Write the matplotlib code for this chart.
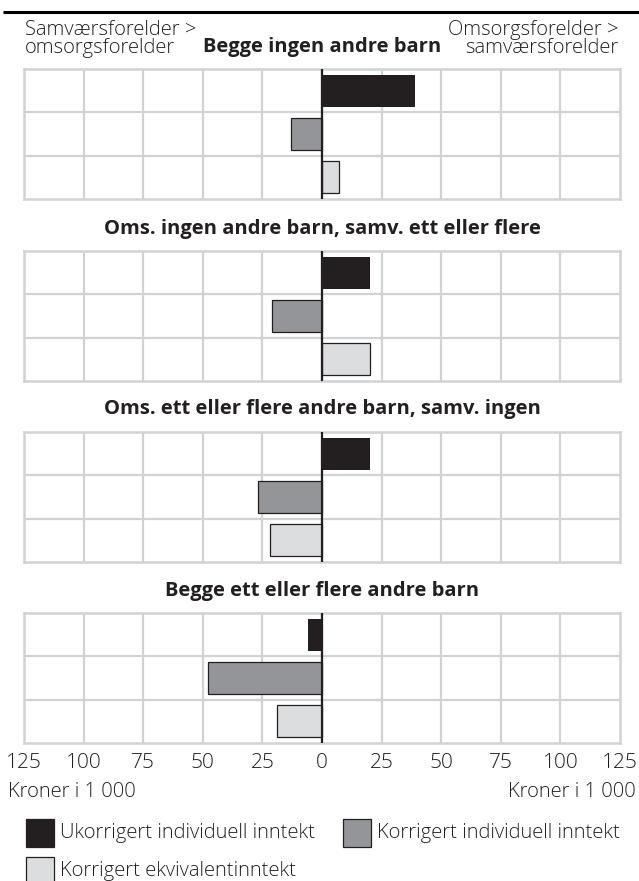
import matplotlib
matplotlib.use("Agg")
import matplotlib.pyplot as plt
from matplotlib.patches import Rectangle

plt.rcParams['font.family'] = ['Open Sans', 'DejaVu Sans']

panel_titles = ["Begge ingen andre barn",
                "Oms. ingen andre barn, samv. ett eller flere",
                "Oms. ett eller flere andre barn, samv. ingen",
                "Begge ett eller flere andre barn"]
series_names = ["Ukorrigert individuell inntekt",
                "Korrigert individuell inntekt",
                "Korrigert ekvivalentinntekt"]
# values per panel: [ukorrigert, korrigert individuell, korrigert ekvivalent] (1000 kr)
values = [[39, -13, 7],
          [20, -21, 20],
          [20, -27, -22],
          [-6, -48, -19]]
tick_values = [-125, -100, -75, -50, -25, 0, 25, 50, 75, 100, 125]
tick_labels = ["125", "100", "75", "50", "25", "0", "25", "50", "75", "100", "125"]

colors = ["#231f20", "#939598", "#dcddde"]
edges = ["#231f20", "#231f20", "#231f20"]
edge_w = [0, 0.9, 0.9]
grid_c = "#d1d2d4"
txt_c = "#231f20"
light = 'light'

W, H = 639, 881
fig = plt.figure(figsize=(W / 100, H / 100), dpi=100)

def fx(px):
    return px / W

def fy(py):
    return 1 - py / H

panel_tops = [69, 251, 432, 613]
panel_h = 130
x_left, x_right = 24, 620
title_y = [47, 229, 409, 591]

for i, (vals, top) in enumerate(zip(values, panel_tops)):
    ax = fig.add_axes([fx(x_left), fy(top + panel_h), fx(x_right - x_left), panel_h / H])
    ax.set_xlim(-125, 125)
    ax.set_ylim(2.5, -0.5)
    for xv in tick_values[1:-1]:
        ax.axvline(xv, color=grid_c, lw=1.6, zorder=0)
    for yv in [0.5, 1.5]:
        ax.axhline(yv, color=grid_c, lw=1.6, zorder=0)
    for j, v in enumerate(vals):
        ax.barh(j, v, height=0.74, color=colors[j], edgecolor=edges[j],
                linewidth=edge_w[j], zorder=2)
    ax.axvline(0, color=txt_c, lw=1.6, zorder=3)
    for s in ax.spines.values():
        s.set_color(grid_c)
        s.set_linewidth(1.8)
    ax.set_xticks([])
    ax.set_yticks([])

ov = fig.add_axes([0, 0, 1, 1])
ov.set_xlim(0, W)
ov.set_ylim(H, 0)
ov.axis('off')
ov.patch.set_alpha(0)

ov.plot([3, W], [12, 12], color="#000000", lw=2.2, solid_capstyle='butt')

for t, y in zip(panel_titles, title_y):
    ov.text(322, y, t, ha='center', va='center', fontsize=14.5, fontweight='bold', color=txt_c)

ov.text(25, 39, "Samværsforelder >\nomsorgsforelder", ha='left', va='center',
        fontsize=14.5, color=txt_c, linespacing=0.93, fontweight=light)
ov.text(618, 39, "Omsorgsforelder >\nsamværsforelder", ha='right', va='center',
        fontsize=14.5, color=txt_c, linespacing=0.93, multialignment='right', fontweight=light)

for v, lab in zip(tick_values, tick_labels):
    xp = x_left + (v + 125) / 250 * (x_right - x_left)
    ov.text(xp, 763, lab, ha='center', va='center', fontsize=15, color=txt_c, fontweight=light)

ov.text(8, 792, "Kroner i 1 000", ha='left', va='center', fontsize=14.5, color=txt_c, fontweight=light)
ov.text(636, 792, "Kroner i 1 000", ha='right', va='center', fontsize=14.5, color=txt_c, fontweight=light)

leg_pos = [(26, 833), (343, 833), (26, 871)]
for (lx, ly), name, c in zip(leg_pos, series_names, colors):
    ov.add_patch(Rectangle((lx, ly - 14), 28, 28, facecolor=c, edgecolor=txt_c, lw=0.9))
    ov.text(lx + 34, ly, name, ha='left', va='center', fontsize=14.5, color=txt_c, fontweight=light)

fig.savefig("out.png", dpi=100)
